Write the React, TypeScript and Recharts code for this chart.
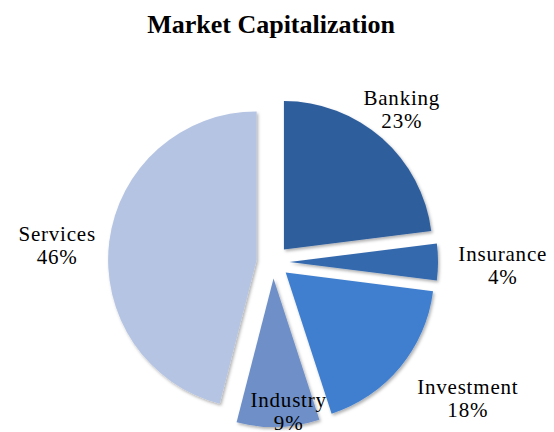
import { PieChart, Pie, Cell, Sector } from 'recharts'

const sectors = ['Banking', 'Insurance', 'Investment', 'Industry', 'Services']
const shares = [23, 4, 18, 9, 46]
const colors = ['#2F5E9C', '#3469AE', '#3F7ECF', '#6E8FC7', '#B5C4E3']
// label distance from centre and small turn (deg) away from the slice bisector
const labelRadius = [194, 230, 242, 157.5, 216]
const labelTurn = [0.2, 2.6, -3.2, -3.9, -4.7]

const data = sectors.map((name, i) => ({ name, value: shares[i] }))

const RAD = Math.PI / 180
const PULL = 16.5
const FONT = '"Liberation Serif", "Times New Roman", serif'

function ExplodedSlice(props: any) {
  const { cx, cy, midAngle } = props
  return (
    <Sector
      {...props}
      cx={cx + PULL * Math.cos(-midAngle * RAD)}
      cy={cy + PULL * Math.sin(-midAngle * RAD)}
      filter="url(#sliceShadow)"
    />
  )
}

function SliceLabel(props: any) {
  const { cx, cy, midAngle, index } = props
  const a = (midAngle - labelTurn[index]) * RAD
  const x = cx + labelRadius[index] * Math.cos(a)
  const y = cy - labelRadius[index] * Math.sin(a)
  return (
    <g>
      <text x={x} y={y - 11.5} textAnchor="middle" fill="#000" fontSize={21} fontFamily={FONT} letterSpacing={0.8}>
        {sectors[index]}
      </text>
      <text x={x} y={y + 11.5} textAnchor="middle" fill="#000" fontSize={21} fontFamily={FONT} letterSpacing={0.8}>
        {shares[index]}%
      </text>
    </g>
  )
}

export default function App() {
  return (
    <div style={{ position: 'absolute', left: 0, top: 0, width: 554, height: 432, background: '#fff' }}>
      <svg width={0} height={0} style={{ position: 'absolute' }}>
        <defs>
          <filter id="sliceShadow" x="-10%" y="-10%" width="130%" height="130%">
            <feDropShadow dx={1.5} dy={2} stdDeviation={1.5} floodColor="#000" floodOpacity={0.3} />
          </filter>
        </defs>
      </svg>
      <div style={{
        position: 'absolute', left: 0, top: 12, width: 542, textAlign: 'center',
        fontFamily: FONT, fontWeight: 'bold', fontSize: 26, lineHeight: '26px', color: '#000',
      }}>
        Market Capitalization
      </div>
      <PieChart width={554} height={432}>
        <Pie
          data={data}
          dataKey="value"
          nameKey="name"
          cx={268}
          cy={257}
          outerRadius={148.5}
          startAngle={90}
          endAngle={-270}
          stroke="none"
          shape={ExplodedSlice}
          label={SliceLabel}
          labelLine={false}
          isAnimationActive={false}
        >
          {data.map((d, i) => <Cell key={d.name} fill={colors[i]} />)}
        </Pie>
      </PieChart>
    </div>
  )
}
